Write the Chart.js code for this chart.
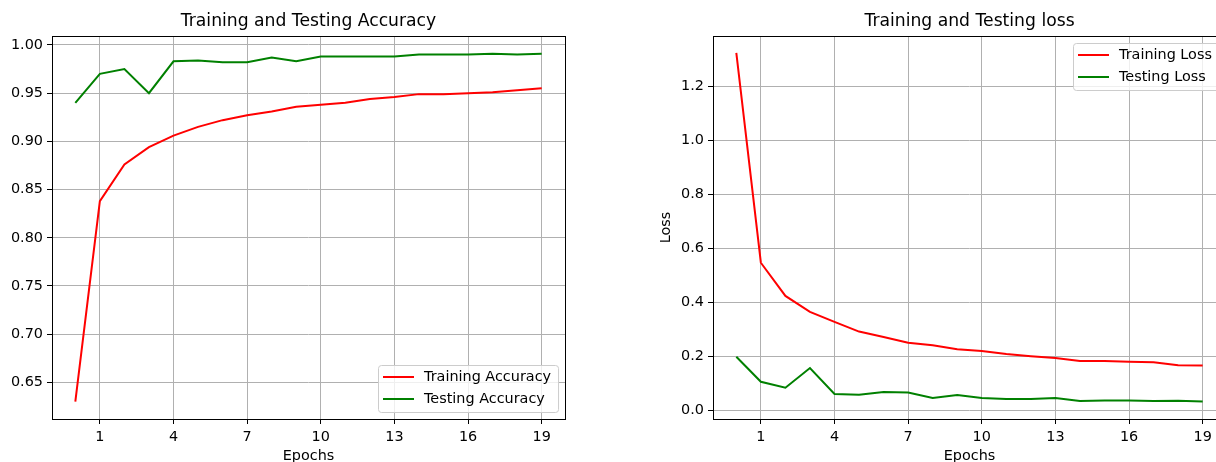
<!DOCTYPE html>
<html>
<head>
<meta charset="utf-8">
<script src="https://cdn.jsdelivr.net/npm/chart.js@4.4.0/dist/chart.umd.min.js"></script>
<style>
html, body { margin: 0; padding: 0; background: #fff; overflow: hidden; }
#wrap { position: relative; width: 1216px; height: 462px; overflow: hidden; }
canvas { position: absolute; top: 0; }
#accChart { left: 0; }
#lossChart { left: 608px; }
</style>
</head>
<body>
<div id="wrap">
  <canvas id="accChart" width="608" height="462"></canvas>
  <canvas id="lossChart" width="620" height="462"></canvas>
</div>
<script>
// data
const epochs = [0, 1, 2, 3, 4, 5, 6, 7, 8, 9, 10, 11, 12, 13, 14, 15, 16, 17, 18, 19];
const xTicks = [1, 4, 7, 10, 13, 16, 19];

const trainAcc = [0.630, 0.838, 0.876, 0.894, 0.906, 0.915, 0.922, 0.927, 0.931, 0.936,
                  0.938, 0.940, 0.944, 0.946, 0.949, 0.949, 0.950, 0.951, 0.953, 0.955];
const testAcc = [0.940, 0.970, 0.975, 0.950, 0.983, 0.984, 0.982, 0.982, 0.987, 0.983,
                 0.988, 0.988, 0.988, 0.988, 0.990, 0.990, 0.990, 0.991, 0.990, 0.991];
const accTicks = [0.65, 0.70, 0.75, 0.80, 0.85, 0.90, 0.95, 1.00];

const trainLoss = [1.325, 0.548, 0.425, 0.366, 0.329, 0.293, 0.273, 0.252, 0.242, 0.228,
                   0.221, 0.210, 0.202, 0.195, 0.184, 0.184, 0.181, 0.179, 0.168, 0.167];
const testLoss = [0.200, 0.107, 0.085, 0.158, 0.062, 0.059, 0.069, 0.067, 0.047, 0.058,
                  0.047, 0.043, 0.043, 0.047, 0.036, 0.038, 0.038, 0.036, 0.037, 0.034];
const lossTicks = [0.0, 0.2, 0.4, 0.6, 0.8, 1.0, 1.2];

const FONT = '"DejaVu Sans", sans-serif';
const toPoints = ys => epochs.map((x, i) => ({ x: x, y: ys[i] }));

// title over the plot area, like plt.title
const plotTitle = {
  id: 'plotTitle',
  afterDraw(chart, args, opts) {
    const { ctx, chartArea: a } = chart;
    ctx.save();
    ctx.font = '17.2px ' + FONT;
    ctx.fillStyle = '#000';
    ctx.textAlign = 'center';
    ctx.textBaseline = 'middle';
    ctx.fillText(opts.text, (a.left + a.right) / 2, 22);
    ctx.restore();
  }
};

// black box round the axes
const frame = {
  id: 'frame',
  afterDatasetsDraw(chart) {
    const { ctx, chartArea: a } = chart;
    ctx.save();
    ctx.strokeStyle = '#000';
    ctx.lineWidth = 1;
    ctx.strokeRect(Math.round(a.left) + 0.5, Math.round(a.top) + 0.5,
                   Math.round(a.right - a.left), Math.round(a.bottom - a.top));
    ctx.restore();
  }
};

// matplotlib style legend box
const boxLegend = {
  id: 'boxLegend',
  afterDraw(chart, args, opts) {
    const { ctx, chartArea: a } = chart;
    const sets = chart.data.datasets;
    ctx.save();
    ctx.font = '14.4px ' + FONT;
    const textW = Math.max(...sets.map(d => ctx.measureText(d.label).width));
    const w = 46 + textW + 7;
    const h = 47;
    const x = Math.round(a.right - 7 - w);
    const y = Math.round(opts.corner === 'upper right' ? a.top + 7 : a.bottom - 7 - h);
    ctx.beginPath();
    ctx.roundRect(x + 0.5, y + 0.5, w, h, 3);
    ctx.fillStyle = 'rgba(255,255,255,0.8)';
    ctx.fill();
    ctx.strokeStyle = '#cccccc';
    ctx.lineWidth = 1;
    ctx.stroke();
    sets.forEach((d, i) => {
      const cy = y + 12 + i * 22;
      ctx.beginPath();
      ctx.moveTo(x + 5, cy);
      ctx.lineTo(x + 36, cy);
      ctx.strokeStyle = d.borderColor;
      ctx.lineWidth = 2;
      ctx.stroke();
      ctx.fillStyle = '#000';
      ctx.textAlign = 'left';
      ctx.textBaseline = 'middle';
      ctx.fillText(d.label, x + 46, cy);
    });
    ctx.restore();
  }
};

function makeChart(id, cfg) {
  return new Chart(document.getElementById(id), {
    type: 'line',
    data: {
      datasets: [
        { label: cfg.names[0], data: toPoints(cfg.series[0]), borderColor: '#ff0000',
          backgroundColor: '#ff0000', borderWidth: 2, pointRadius: 0, tension: 0, fill: false },
        { label: cfg.names[1], data: toPoints(cfg.series[1]), borderColor: '#008000',
          backgroundColor: '#008000', borderWidth: 2, pointRadius: 0, tension: 0, fill: false }
      ]
    },
    plugins: [plotTitle, frame, boxLegend],
    options: {
      responsive: false,
      animation: false,
      layout: { padding: { left: 0, right: cfg.padRight, top: 36, bottom: 0 } },
      plugins: {
        legend: { display: false },
        tooltip: { enabled: false },
        plotTitle: { text: cfg.title },
        boxLegend: { corner: cfg.legendCorner }
      },
      scales: {
        x: {
          type: 'linear',
          min: -0.95,
          max: 19.95,
          afterBuildTicks: s => { s.ticks = xTicks.map(v => ({ value: v })); },
          afterFit: s => { s.height = 43; },
          grid: { color: '#b0b0b0', lineWidth: 1, tickColor: '#000', tickLength: 5 },
          border: { display: false },
          ticks: { color: '#000', font: { family: FONT, size: 14.4 }, padding: 5,
                   maxRotation: 0, autoSkip: false, callback: v => String(v) },
          title: { display: true, text: 'Epochs', color: '#000',
                   font: { family: FONT, size: 14.4, lineHeight: 1 }, padding: { top: 0, bottom: -1 } }
        },
        y: {
          min: cfg.yMin,
          max: cfg.yMax,
          afterBuildTicks: s => { s.ticks = cfg.yTicks.map(v => ({ value: v })); },
          afterFit: s => { s.width = cfg.yWidth; },
          grid: { color: '#b0b0b0', lineWidth: 1, tickColor: '#000', tickLength: 5 },
          border: { display: false },
          ticks: { color: '#000', font: { family: FONT, size: 14.4 }, padding: 4,
                   autoSkip: false, callback: v => v.toFixed(cfg.digits) },
          title: { display: !!cfg.yLabel, text: cfg.yLabel || '', color: '#000',
                   font: { family: FONT, size: 14.4, lineHeight: 1 }, padding: { top: 51, bottom: 0 } }
        }
      }
    }
  });
}

makeChart('accChart', {
  title: 'Training and Testing Accuracy',
  names: ['Training Accuracy', 'Testing Accuracy'],
  series: [trainAcc, testAcc],
  yTicks: accTicks,
  yMin: 0.612,
  yMax: 1.0093,
  digits: 2,
  yWidth: 52,
  padRight: 43,
  legendCorner: 'lower right'
});

makeChart('lossChart', {
  title: 'Training and Testing loss',
  names: ['Training Loss', 'Testing Loss'],
  series: [trainLoss, testLoss],
  yTicks: lossTicks,
  yMin: -0.0307,
  yMax: 1.3876,
  digits: 1,
  yWidth: 105,
  yLabel: 'Loss',
  padRight: 2,
  legendCorner: 'upper right'
});
</script>
</body>
</html>
